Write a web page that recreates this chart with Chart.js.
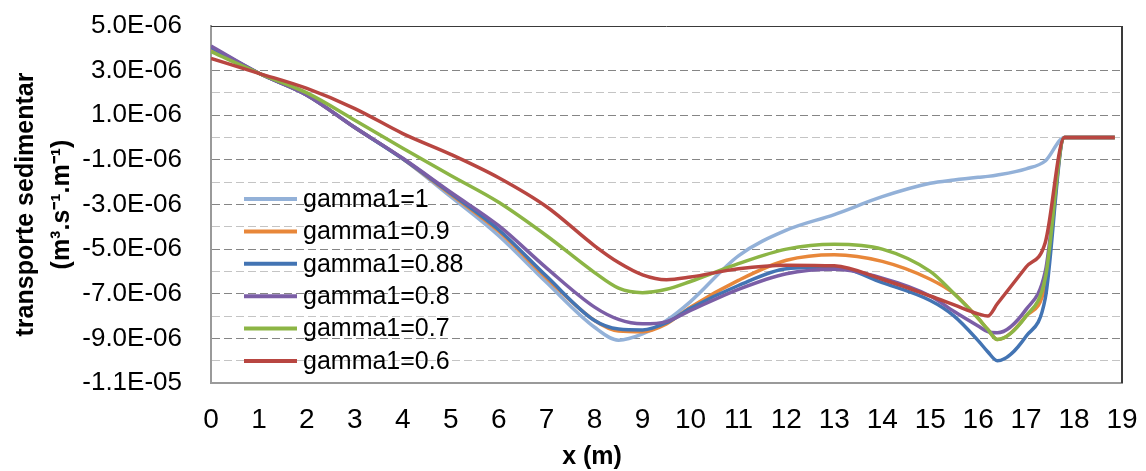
<!DOCTYPE html>
<html>
<head>
<meta charset="utf-8">
<script src="https://cdn.jsdelivr.net/npm/chart.js@4/dist/chart.umd.min.js"></script>
<style>
  html, body { margin: 0; padding: 0; background: #fff; }
  #wrap { width: 1146px; height: 471px; position: relative; }
</style>
</head>
<body>
<div id="wrap"><canvas id="chart"></canvas></div>
<script>
// values, in units of 1e-6 m3/s/m
const UNIT = 1e-6;
const xs = [0, 1, 2, 3, 4, 5, 6, 7, 8, 8.5, 9, 9.5, 10, 11, 12, 13, 14, 15, 15.5, 16, 16.2, 16.4, 17, 17.4, 17.8, 18.85];

const labels = ['gamma1=1', 'gamma1=0.9', 'gamma1=0.88', 'gamma1=0.8', 'gamma1=0.7', 'gamma1=0.6'];
const g100 = [4.05, 2.88, 1.9, 0.45, -0.95, -2.65, -4.4, -6.5, -8.5, -9.08, -8.8, -8.2, -7.35, -5.3, -4.15, -3.45, -2.65, -2.05, -1.9, -1.78, -1.74, -1.68, -1.4, -1.05, 0, 0];
const g090 = [4.0, 2.88, 1.9, 0.45, -0.95, -2.55, -4.2, -6.3, -8.2, -8.67, -8.7, -8.35, -7.6, -6.4, -5.5, -5.25, -5.55, -6.35, -7.0, -8.1, -8.6, -9.05, -8.0, -6.6, 0, 0];
const g088 = [4.05, 2.88, 1.9, 0.45, -0.95, -2.5, -4.13, -6.22, -8.2, -8.58, -8.62, -8.3, -7.65, -6.63, -5.88, -5.8, -6.5, -7.3, -8.0, -9.1, -9.6, -10.0, -8.9, -7.2, 0, 0];
const g080 = [4.1, 2.88, 1.9, 0.45, -0.93, -2.45, -3.95, -5.85, -7.6, -8.15, -8.35, -8.25, -7.75, -6.8, -6.1, -5.9, -6.3, -7.1, -7.8, -8.45, -8.7, -8.75, -7.7, -6.0, 0, 0];
const g070 = [3.85, 2.88, 2.0, 0.78, -0.48, -1.7, -2.9, -4.4, -6.05, -6.75, -6.95, -6.8, -6.45, -5.65, -5.0, -4.78, -5.0, -6.0, -7.0, -8.1, -8.6, -9.05, -8.0, -6.3, 0, 0];
const g060 = [3.55, 2.88, 2.2, 1.3, 0.18, -0.75, -1.8, -3.1, -4.85, -5.6, -6.15, -6.37, -6.25, -5.88, -5.72, -5.75, -6.35, -7.1, -7.5, -7.9, -8.0, -7.45, -5.8, -4.7, 0, 0];

const series = [g100, g090, g088, g080, g070, g060];
const COLORS = ['#93B1D8', '#E8873A', '#4374B3', '#7B5EA6', '#8CB545', '#B84641'];

const FONT = "'Liberation Sans', Arial, sans-serif";
const NARROW = "'Liberation Sans Narrow', 'Arial Narrow', 'Liberation Sans', Arial, sans-serif";

function sciLabel(v) {
  const k = Math.round(v / UNIT);
  if (k % 2 === 0) return '';
  return (k * UNIT).toExponential(1).replace(/e([+-])(\d)$/, 'E$10$2');
}

// legend drawn inside the plot, left side
const innerLegend = {
  id: 'innerLegend',
  afterDatasetsDraw(chart) {
    const ctx = chart.ctx;
    ctx.save();
    ctx.font = '25px ' + FONT;
    ctx.textBaseline = 'middle';
    ctx.fillStyle = '#000';
    labels.forEach((lab, i) => {
      const y = 199 + i * 32.4;
      ctx.strokeStyle = COLORS[i];
      ctx.lineWidth = 4;
      ctx.beginPath();
      ctx.moveTo(244, y);
      ctx.lineTo(297, y);
      ctx.stroke();
      ctx.fillText(lab, 303, y + 1);
    });
    ctx.restore();
  }
};

// frame top/right + x axis title
const frame = {
  id: 'frame',
  afterDraw(chart) {
    const {ctx, chartArea: a} = chart;
    ctx.save();
    ctx.strokeStyle = '#3a3a3a';
    ctx.lineWidth = 1;
    ctx.beginPath();
    ctx.moveTo(a.left, a.top + 0.5);
    ctx.lineTo(a.right, a.top + 0.5);
    ctx.stroke();
    ctx.lineWidth = 2;
    ctx.beginPath();
    ctx.moveTo(a.right, a.top);
    ctx.lineTo(a.right, a.bottom);
    ctx.stroke();
    ctx.font = 'bold 25px ' + FONT;
    ctx.fillStyle = '#000';
    ctx.textAlign = 'center';
    ctx.textBaseline = 'middle';
    ctx.fillText('x (m)', 592, 457);
    ctx.restore();
  }
};

Chart.defaults.font.family = FONT;
Chart.defaults.color = '#000';

new Chart(document.getElementById('chart'), {
  type: 'line',
  data: {
    datasets: series.map((ys, i) => ({
      label: labels[i],
      data: xs.map((x, j) => ({x: x, y: ys[j] * UNIT})),
      borderColor: COLORS[i],
      backgroundColor: COLORS[i],
      borderWidth: 3.5,
      pointRadius: 0,
      fill: false,
      cubicInterpolationMode: 'monotone',
      order: series.length - i
    }))
  },
  options: {
    responsive: true,
    maintainAspectRatio: false,
    animation: false,
    layout: { padding: { top: 26, right: 24, left: 0, bottom: 0 } },
    plugins: {
      legend: { display: false },
      tooltip: { enabled: false }
    },
    scales: {
      x: {
        type: 'linear',
        min: 0,
        max: 19,
        grid: { display: false, drawTicks: false },
        border: { display: true, color: '#9a9a9a', width: 2 },
        ticks: {
          stepSize: 1,
          autoSkip: false,
          maxRotation: 0,
          padding: 20,
          font: { family: NARROW, size: 28 }
        },
        afterFit: s => { s.height = 88; s.paddingLeft = 0; s.paddingRight = 0; }
      },
      y: {
        min: -11 * UNIT,
        max: 5 * UNIT,
        grid: {
          drawTicks: false,
          lineWidth: 1,
          color: ctx => (Math.round(ctx.tick.value / UNIT) % 2 === 0 ? '#c4c4c4' : '#858585')
        },
        border: { display: true, color: '#9a9a9a', width: 2, dash: [8, 4] },
        ticks: {
          stepSize: UNIT,
          autoSkip: false,
          padding: 29,
          font: { size: 26 },
          callback: v => sciLabel(v)
        },
        title: {
          display: true,
          text: ['transporte sedimentar', '(m\u00B3.s\u207B\u00B9.m\u207B\u00B9)'],
          font: { size: 25, weight: 'bold', lineHeight: 1.44 },
          padding: { top: 8, bottom: 0 }
        },
        afterFit: s => { s.width = 211; s.paddingTop = 0; s.paddingBottom = 0; }
      }
    }
  },
  plugins: [frame, innerLegend]
});
</script>
</body>
</html>
